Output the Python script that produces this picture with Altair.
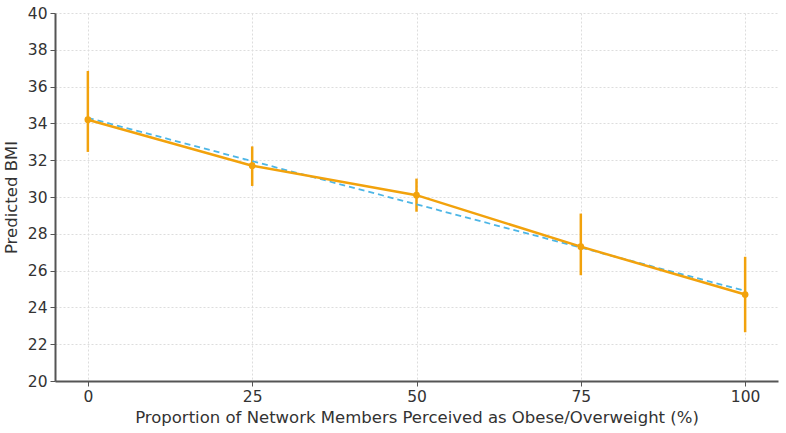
import altair as alt
import pandas as pd

# Predicted BMI by share of network members perceived as obese/overweight
proportion = [0, 25, 50, 75, 100]
predicted_bmi = [34.2, 31.7, 30.1, 27.3, 24.7]
ci_low = [32.45, 30.6, 29.2, 25.75, 22.65]
ci_high = [36.85, 32.75, 31.0, 29.1, 26.75]

# Fitted linear trend endpoints
trend_x = [0, 100]
trend_y = [34.3, 24.9]

df = pd.DataFrame({"x": proportion, "bmi": predicted_bmi, "lo": ci_low, "hi": ci_high})
trend = pd.DataFrame({"x": trend_x, "bmi": trend_y})

ORANGE = "#f2a20c"
BLUE = "#4db6e6"
FONT = "DejaVu Sans"

x_scale = alt.Scale(domain=[-5, 105], nice=False, zero=False)
y_scale = alt.Scale(domain=[20, 40], nice=False, zero=False)
y_axis = alt.Axis(values=list(range(20, 41, 2)), title="Predicted BMI")

x_enc = alt.X(
    "x:Q", scale=x_scale,
    axis=alt.Axis(values=[0, 25, 50, 75, 100], format="d",
                  title="Proportion of Network Members Perceived as Obese/Overweight (%)"),
)
y_enc = alt.Y("bmi:Q", scale=y_scale, axis=y_axis)

errbars = alt.Chart(df).mark_rule(color=ORANGE, strokeWidth=2.5).encode(
    x=x_enc, y=alt.Y("lo:Q", scale=y_scale, axis=y_axis), y2="hi:Q"
)
line = alt.Chart(df).mark_line(color=ORANGE, strokeWidth=2.5).encode(x=x_enc, y=y_enc)
points = alt.Chart(df).mark_point(filled=True, color=ORANGE, size=45, opacity=1).encode(x=x_enc, y=y_enc)
trend_line = alt.Chart(trend).mark_line(color=BLUE, strokeWidth=1.8, strokeDash=[6, 4]).encode(x=x_enc, y=y_enc)

chart = (
    alt.layer(errbars, trend_line, line, points)
    .properties(
        width=723, height=368,
        autosize=alt.AutoSizeParams(type="none"),
        padding={"left": 55, "top": 13, "right": 8, "bottom": 52},
        background="white",
    )
    .configure_view(stroke=None)
    .configure_axis(
        labelFont=FONT, titleFont=FONT, labelFontSize=15.5, titleFontSize=16.5,
        labelColor="#333333", titleColor="#333333", titleFontWeight="normal",
        labelOverlap=False,
        domainColor="#555555", domainWidth=2, tickColor="#555555", tickSize=5,
        gridColor="#dddddd", gridDash=[2, 2], gridWidth=1,
    )
    .configure_axisX(labelPadding=3, titlePadding=5)
    .configure_axisY(labelPadding=3, titlePadding=8)
)

chart.save("out.html", embed_options={"renderer": "svg", "actions": False})
